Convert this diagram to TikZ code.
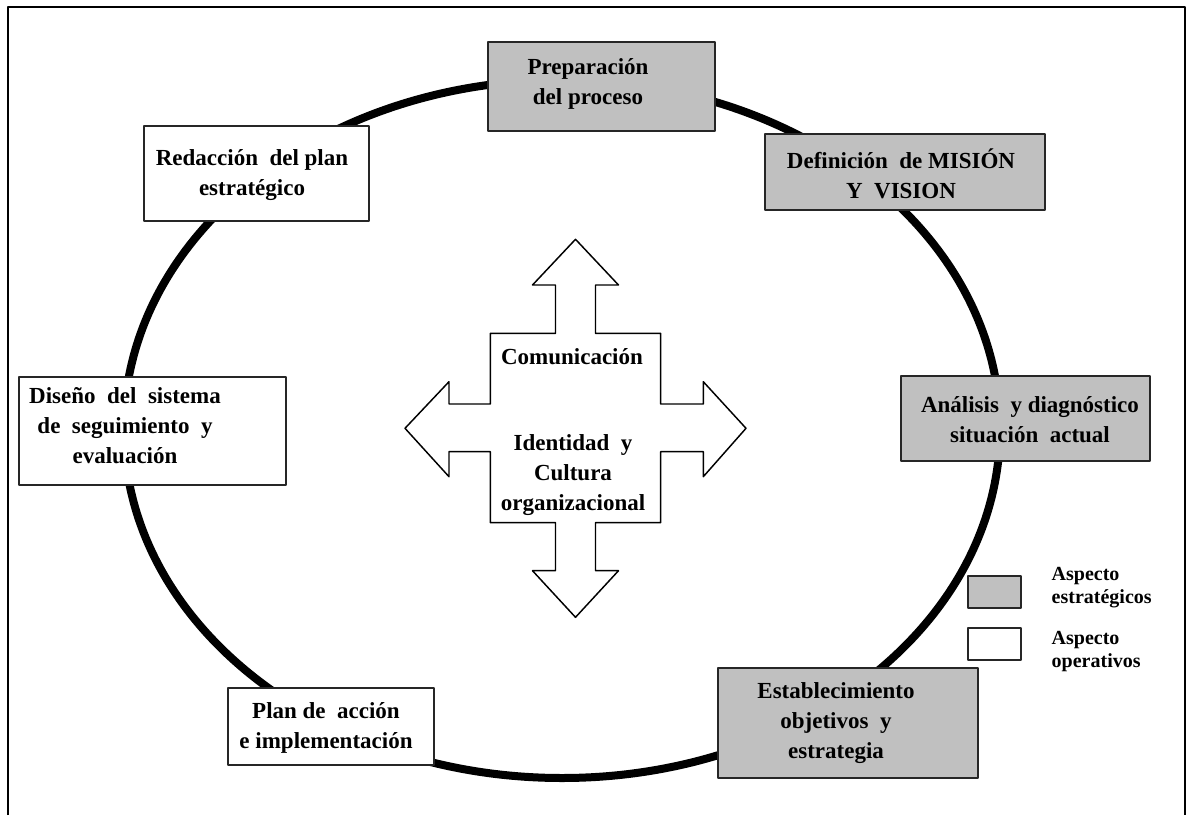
\documentclass[tikz,border=0pt]{standalone}
\usepackage{fontspec}
\setmainfont{Liberation Serif}
\definecolor{estrat}{HTML}{C0C0C0}
\tikzset{
  caja/.style={draw=black!85, line width=1.5pt, inner sep=0pt},
  gcaja/.style={caja, fill=estrat},
  bcaja/.style={caja, fill=white},
  texto/.style={align=center, font=\bfseries\fontsize{17.25}{22.5}\selectfont},
  leyenda/.style={align=left, anchor=west, font=\bfseries\fontsize{15}{17.25}\selectfont}
}
\begin{document}
\begin{tikzpicture}[x=0.75pt, y=-0.75pt, line join=round]
            \useasboundingbox (0,0) rectangle (1186,815);
            \draw[line width=1.5pt] (8,815)--(8,7.3)--(1184.7,7.3)--(1184.7,815);
            % ciclo
            \draw[line width=6pt] (562,429) ellipse [x radius=328.5pt, y radius=261.75pt];
            % cajas
            \node[gcaja, minimum width=170.25pt, minimum height=66.5pt] (prep) at (601.5,86.7) {};
            \node[gcaja, minimum width=210pt, minimum height=56.8pt] (mision) at (904.5,172.2) {};
            \node[gcaja, minimum width=186.75pt, minimum height=63.75pt] (analisis) at (1025.4,418.3) {};
            \node[gcaja, minimum width=195pt, minimum height=82.5pt] (objetivos) at (847.5,723.3) {};
            \node[bcaja, minimum width=154.5pt, minimum height=57.5pt] (plan) at (330.6,726.7) {};
            \node[bcaja, minimum width=200.25pt, minimum height=81pt] (diseno) at (152.5,430.8) {};
            \node[bcaja, minimum width=168.75pt, minimum height=71.25pt] (redaccion) at (256.8,173.2) {};
            \node[texto] (prep-t) at (588,84) {Preparación\\del proceso};
            \node[texto] (mision-t) at (901,174) {Definición\ \ de MISIÓN\\Y\ \ VISION};
            \node[texto] (analisis-t) at (1030,420) {Análisis\ \ y diagnóstico\\situación\ \ actual};
            \node[texto] (objetivos-t) at (836,723) {Establecimiento\\objetivos\ \ y\\estrategia};
            \node[texto] (plan-t) at (326,728) {Plan de\ \ acción\\e implementación};
            \node[texto] (diseno-t) at (125,426) {Diseño\ \ del\ \ sistema\\de\ \ seguimiento\ \ y\\evaluación};
            \node[texto] (redaccion-t) at (252,175) {Redacción\ \ del plan\\estratégico};
            % flechas del centro
            \draw[line width=1.1pt, fill=white] (575.5,239.3)--(618.5,285)--(595.5,285)--(595.5,333.3)--(660.7,333.3)
              --(660.7,404)--(703.3,404)--(703.3,381.7)--(746,428.3)--(703.3,476.7)--(703.3,451.7)--(660.7,451.7)
              --(660.7,522.7)--(595.5,522.7)--(595.5,570.7)--(618.5,570.7)--(575.5,617.3)--(532.5,570.7)
              --(555.5,570.7)--(555.5,522.7)--(490.3,522.7)--(490.3,451.7)--(449,451.7)--(449,476.7)--(405,428.3)
              --(449,381.7)--(449,404)--(490.3,404)--(490.3,333.3)--(555.5,333.3)--(555.5,285)--(532.5,285)--cycle;
            \node[texto] (comunicacion) at (572,357) {Comunicación};
            \node[texto] (identidad) at (573,475) {Identidad\ \ y\\Cultura\\organizacional};
            % leyenda
            \node[gcaja, minimum width=39.75pt, minimum height=23.75pt] (ley-g) at (994.5,592) {};
            \node[bcaja, minimum width=39.75pt, minimum height=23.75pt] (ley-b) at (994.5,644) {};
            \node[leyenda] (ley-g-t) at (1047,588) {Aspecto\\estratégicos};
            \node[leyenda] (ley-b-t) at (1047,651.5) {Aspecto\\operativos};
\end{tikzpicture}
\end{document}
